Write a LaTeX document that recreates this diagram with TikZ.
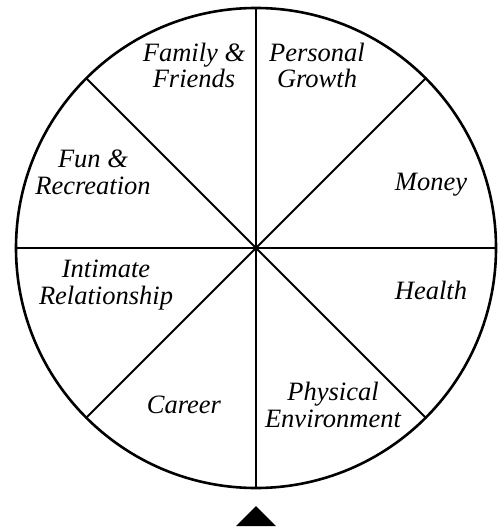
\documentclass[tikz,border=0pt]{standalone}
\usepackage{fontspec}
\setmainfont{Liberation Serif}
\usepackage{tikz}

\begin{document}
\begin{tikzpicture}[x=1pt,y=-1pt,
	area/.style={font=\itshape\fontsize{26.5}{26.5}\selectfont, align=center, inner sep=0pt, anchor=base}]
			\useasboundingbox (0,0) rectangle (499,529);
			\coordinate (hub) at (256,248);

			% wheel
			\draw [line width=2.6pt] (hub) circle [radius=240pt];
			\draw [line width=2pt] (hub) ++(90:240pt) -- ++(270:480pt) ;
			\draw [line width=2pt] (hub) ++(0:240pt) -- ++(180:480pt) ;
			\draw [line width=2pt] (hub) ++(45:240pt) -- ++(225:480pt) ;
			\draw [line width=2pt] (hub) ++(135:240pt) -- ++(315:480pt) ;

			% pointer
			\fill (256,506) -- (236,526) -- (276,526) -- cycle ;

			% area labels
			\node[area] (family) at (194,88) {Family \&\\Friends} ;
			\node[area] (growth) at (317,88) {Personal\\Growth} ;
			\node[area] (fun) at (93,194) {Fun \&\\Recreation} ;
			\node[area] (money) at (431,190) {Money} ;
			\node[area] (intimate) at (106,304) {Intimate\\Relationship} ;
			\node[area] (health) at (431,299) {Health} ;
			\node[area] (career) at (184,413) {Career} ;
			\node[area] (physical) at (333,427) {Physical\\Environment} ;
		\end{tikzpicture}
\end{document}
